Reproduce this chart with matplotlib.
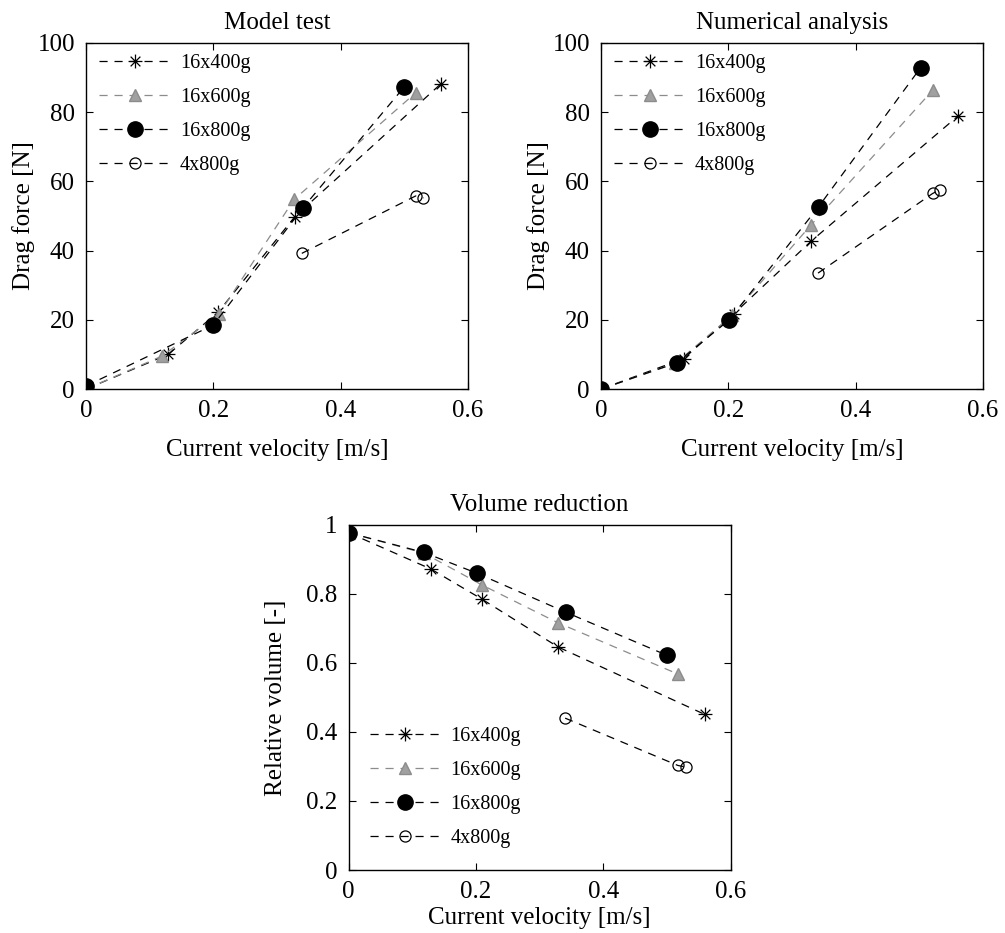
import numpy as np
import matplotlib
matplotlib.use("Agg")
import matplotlib.pyplot as plt
from matplotlib.path import Path

plt.rcParams.update({
    "font.family": ["Liberation Serif", "DejaVu Serif"],
    "font.size": 18,
    "axes.linewidth": 1.0,
    "xtick.direction": "in",
    "ytick.direction": "in",
    "xtick.top": True,
    "ytick.right": True,
    "xtick.major.size": 5,
    "ytick.major.size": 5,
})

series = ["16x400g", "16x600g", "16x800g", "4x800g"]

# --- Model test ---
mt_v400 = [0.0, 0.129, 0.208, 0.328, 0.557]
mt_f400 = [0.0, 10.0, 22.3, 49.8, 88.1]
mt_v600 = [0.0, 0.119, 0.209, 0.327, 0.518]
mt_f600 = [0.0, 9.5, 21.7, 54.8, 85.6]
mt_v800 = [0.0, 0.200, 0.341, 0.500]
mt_f800 = [0.9, 18.5, 52.4, 87.3]
mt_v4 = [0.339, 0.518, 0.530]
mt_f4 = [39.2, 55.8, 55.2]

# --- Numerical analysis ---
na_v400 = [0.0, 0.130, 0.209, 0.330, 0.561]
na_f400 = [0.0, 8.8, 21.8, 42.7, 78.9]
na_v600 = [0.0, 0.117, 0.206, 0.330, 0.522]
na_f600 = [0.0, 7.4, 21.3, 47.4, 86.5]
na_v800 = [0.0, 0.119, 0.201, 0.342, 0.502]
na_f800 = [0.0, 7.6, 19.9, 52.7, 92.8]
na_v4 = [0.341, 0.521, 0.533]
na_f4 = [33.5, 56.5, 57.6]

# --- Volume reduction ---
vr_v400 = [0.0, 0.129, 0.209, 0.329, 0.559]
vr_r400 = [0.977, 0.872, 0.785, 0.646, 0.451]
vr_v600 = [0.0, 0.118, 0.209, 0.329, 0.518]
vr_r600 = [0.977, 0.918, 0.826, 0.716, 0.567]
vr_v800 = [0.0, 0.118, 0.201, 0.342, 0.500]
vr_r800 = [0.977, 0.920, 0.860, 0.746, 0.622]
vr_v4 = [0.340, 0.517, 0.530]
vr_r4 = [0.440, 0.303, 0.298]

# MATLAB-like asterisk marker
asterisk = Path(
    [(-1, 0), (1, 0), (0, -1), (0, 1),
     (-0.7, -0.7), (0.7, 0.7), (-0.7, 0.7), (0.7, -0.7)],
    [Path.MOVETO, Path.LINETO] * 4,
)

gray = "#8c8c8c"
styles = [
    dict(color="black", marker=asterisk, markersize=10, mfc="none", mec="black", mew=0.9),
    dict(color=gray, marker="^", markersize=8, mfc="#a0a0a0", mec=gray),
    dict(color="black", marker="o", markersize=11, mfc="black", mec="black"),
    dict(color="black", marker="o", markersize=8, mfc="none", mec="black", mew=0.9),
]


def draw(ax, data, title, ylabel, ylim, yticks, legend_anchor, xpad, ypad):
    for (x, y), lab, st in zip(data, series, styles):
        ax.plot(x, y, linestyle=(0, (6.5, 5.5)), linewidth=0.9, label=lab, **st)
    ax.set_xlim(0, 0.6)
    ax.set_ylim(*ylim)
    ax.set_xticks([0, 0.2, 0.4, 0.6])
    ax.set_xticklabels(["0", "0.2", "0.4", "0.6"])
    ax.set_yticks(yticks)
    ax.set_title(title, fontsize=18, pad=10)
    ax.set_xlabel("Current velocity [m/s]", labelpad=xpad)
    ax.set_ylabel(ylabel, labelpad=ypad)
    ax.tick_params(labelsize=18, pad=8)
    ax.legend(loc=legend_anchor[0], bbox_to_anchor=legend_anchor[1], frameon=False,
              fontsize=14.5, handlelength=3.5, handletextpad=0.5,
              labelspacing=0.74, borderaxespad=0.0, borderpad=0.0)


fig = plt.figure(figsize=(10.05, 9.33), dpi=100)
ax1 = fig.add_axes([0.0856, 0.583, 0.380, 0.371])
ax2 = fig.add_axes([0.598, 0.583, 0.380, 0.371])
ax3 = fig.add_axes([0.347, 0.0675, 0.380, 0.370])

draw(ax1, [(mt_v400, mt_f400), (mt_v600, mt_f600), (mt_v800, mt_f800), (mt_v4, mt_f4)],
     "Model test", "Drag force [N]", (0, 100), [0, 20, 40, 60, 80, 100],
     ("upper left", (0.035, 0.968)), 12, 2)
draw(ax2, [(na_v400, na_f400), (na_v600, na_f600), (na_v800, na_f800), (na_v4, na_f4)],
     "Numerical analysis", "Drag force [N]", (0, 100), [0, 20, 40, 60, 80, 100],
     ("upper left", (0.035, 0.968)), 12, 2)
draw(ax3, [(vr_v400, vr_r400), (vr_v600, vr_r600), (vr_v800, vr_r800), (vr_v4, vr_r4)],
     "Volume reduction", "Relative volume [-]", (0, 1), [0, 0.2, 0.4, 0.6, 0.8, 1],
     ("lower left", (0.055, 0.065)), 3, 14)
ax3.set_yticklabels(["0", "0.2", "0.4", "0.6", "0.8", "1"])

fig.savefig("out.png", dpi=100)
